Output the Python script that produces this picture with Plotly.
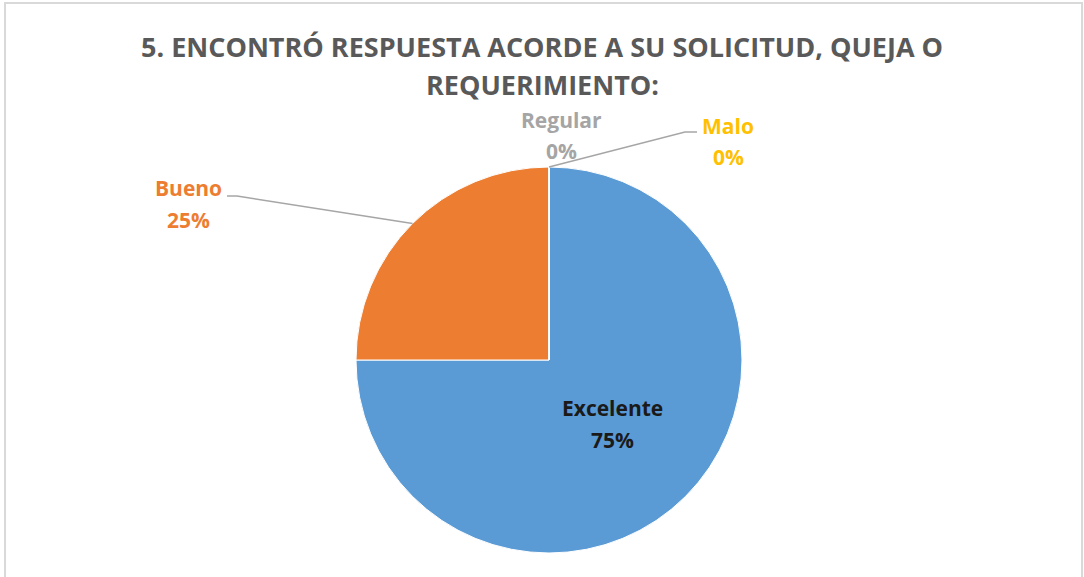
import math
import plotly.graph_objects as go

# ---- data ----
categories = ["Excelente", "Bueno", "Regular", "Malo"]
values = [75, 25, 0, 0]
colors = ["#5B9BD5", "#ED7D31", "#A5A5A5", "#FFC000"]
label_colors = ["#1A1A1A", "#ED7D31", "#A5A5A5", "#FFC000"]
title_lines = ["5. ENCONTRÓ RESPUESTA ACORDE A SU SOLICITUD, QUEJA O", "REQUERIMIENTO:"]

W, H = 1084, 577
CX, CY, R = 549, 360, 193  # pie centre / radius in px


def px(x):
    return x / W


def py(y):
    return 1 - y / H


fig = go.Figure()
fig.add_trace(go.Pie(
    labels=categories,
    values=values,
    marker=dict(colors=colors, line=dict(color="#FFFFFF", width=1)),
    sort=False,
    direction="clockwise",
    rotation=0,
    textinfo="none",
    hoverinfo="label+percent",
    showlegend=False,
    domain=dict(x=[px(CX - R), px(CX + R)], y=[py(CY + R), py(CY - R)]),
))

total = sum(values)
cum = 0
mid_angles = []
for v in values:
    mid_angles.append((cum + v / 2) / total * 2 * math.pi)
    cum += v


def edge_point(ang, frac=1.0):
    return CX + frac * R * math.sin(ang), CY - frac * R * math.cos(ang)


def pct(v):
    return f"{round(v / total * 100)}%"


annotations = []
shapes = []
font_family = "Open Sans, Liberation Sans, sans-serif"
LABEL_SIZE = 21


def add_label(i, cx, cy_name, cy_pct):
    for txt, yy in ((categories[i], cy_name), (pct(values[i]), cy_pct)):
        annotations.append(dict(
            x=px(cx), y=py(yy), xref="paper", yref="paper", showarrow=False,
            text=f"<b>{txt}</b>", xanchor="center", yanchor="middle",
            font=dict(family=font_family, size=LABEL_SIZE, color=label_colors[i]),
        ))


# label placement (centre x, name y, percent y) and leader elbows
label_pos = {
    0: (612, 408, 440),
    1: (188, 188, 220),
    2: (561, 120, 151),
    3: (728, 126, 157),
}
leaders = {
    1: ((237, 196), (227, 196)),
    3: ((685, 132), (697, 132)),
}

for i, (lx, ly1, ly2) in label_pos.items():
    add_label(i, lx, ly1, ly2)

for i, (elbow, lend) in leaders.items():
    sx, sy = edge_point(mid_angles[i])
    path = f"M {px(sx)} {py(sy)} L {px(elbow[0])} {py(elbow[1])} L {px(lend[0])} {py(lend[1])}"
    shapes.append(dict(type="path", xref="paper", yref="paper", path=path,
                       line=dict(color="#A6A6A6", width=1.5)))

# Title
for txt, yy in zip(title_lines, (47, 85)):
    annotations.append(dict(
        x=0.5, y=py(yy), xref="paper", yref="paper", showarrow=False,
        text=f"<b>{txt}</b>", xanchor="center", yanchor="middle",
        font=dict(family=font_family, size=27, color="#595959"),
    ))

# outer border of chart area
shapes.append(dict(type="rect", xref="paper", yref="paper",
                   x0=px(5), x1=px(1082), y0=py(600), y1=py(3),
                   line=dict(color="#D9D9D9", width=2), fillcolor="rgba(0,0,0,0)"))

fig.update_layout(
    width=W, height=H,
    margin=dict(l=0, r=0, t=0, b=0),
    paper_bgcolor="#FFFFFF",
    plot_bgcolor="#FFFFFF",
    annotations=annotations,
    shapes=shapes,
)

fig.write_html("out.html", config={"displayModeBar": False},
               post_script="document.body.style.margin='0';")
